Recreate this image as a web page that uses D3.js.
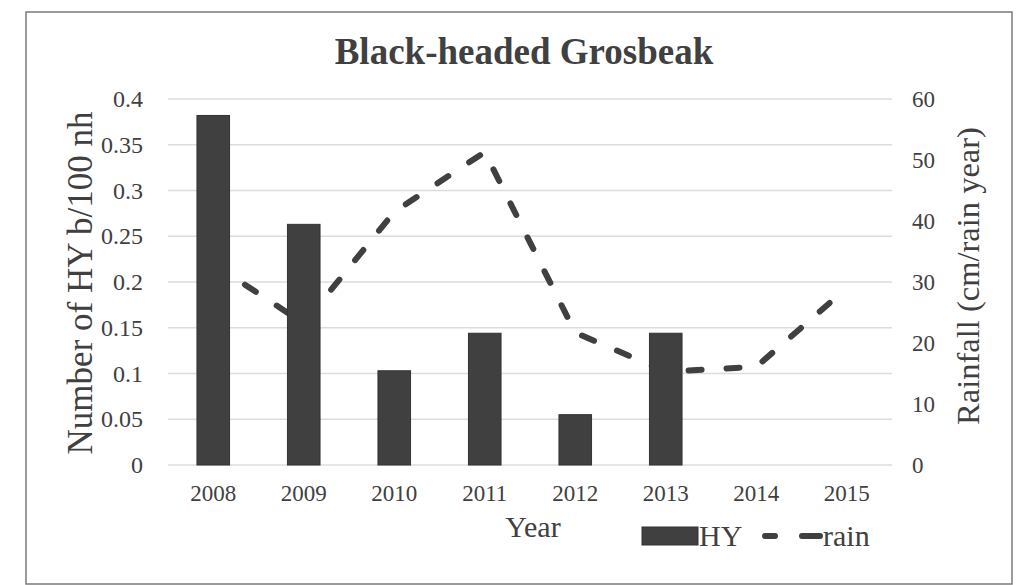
<!DOCTYPE html>
<html>
<head>
<meta charset="utf-8">
<script src="https://cdn.jsdelivr.net/npm/d3@7"></script>
<style>
  body { margin: 0; background: #fff; }
  text { font-family: "Liberation Serif", "Times New Roman", serif; fill: #404040; }
</style>
</head>
<body>
<div id="chart"></div>
<script>
var years = ["2008", "2009", "2010", "2011", "2012", "2013", "2014", "2015"];
var hyValues = [0.382, 0.263, 0.103, 0.144, 0.055, 0.144, null, null];
var rainValues = [33, 23.2, 41.5, 51.3, 21.7, 15.3, 16.1, 29];
var leftTicks = [0, 0.05, 0.1, 0.15, 0.2, 0.25, 0.3, 0.35, 0.4];
var leftLabels = ["0", "0.05", "0.1", "0.15", "0.2", "0.25", "0.3", "0.35", "0.4"];
var rightTicks = [0, 10, 20, 30, 40, 50, 60];

var W = 1019, H = 585;
var plot = {left: 168, right: 892, top: 99, bottom: 465};

var svg = d3.select("#chart")
  .append("svg")
    .attr("width", W)
    .attr("height", H);

// outer frame
svg.append("rect")
  .attr("x", 26).attr("y", 12)
  .attr("width", 986).attr("height", 572)
  .attr("fill", "none")
  .attr("stroke", "#7a7a7a")
  .attr("stroke-width", 1.5);

var x = d3.scaleBand()
  .domain(years)
  .range([plot.left, plot.right])
  .paddingInner(0.64)
  .paddingOuter(0.32);

var y = d3.scaleLinear()
  .domain([0, 0.4])
  .range([plot.bottom, plot.top]);

var y2 = d3.scaleLinear()
  .domain([0, 60])
  .range([plot.bottom, plot.top]);

// gridlines
svg.append("g")
  .selectAll("line")
  .data(leftTicks)
  .enter()
  .append("line")
    .attr("x1", plot.left)
    .attr("x2", plot.right)
    .attr("y1", d => y(d))
    .attr("y2", d => y(d))
    .attr("stroke", "#dcdcdc")
    .attr("stroke-width", 1.5);

// left axis
var leftAxis = svg.append("g")
  .attr("transform", "translate(" + plot.left + ",0)")
  .call(d3.axisLeft(y).tickValues(leftTicks).tickSize(0).tickPadding(25)
    .tickFormat((d, i) => leftLabels[i]));
leftAxis.select(".domain").remove();
leftAxis.selectAll("text").style("font-size", "24px").attr("fill", "#404040");

// right axis
var rightAxis = svg.append("g")
  .attr("transform", "translate(" + plot.right + ",0)")
  .call(d3.axisRight(y2).tickValues(rightTicks).tickSize(0).tickPadding(20));
rightAxis.select(".domain").remove();
rightAxis.selectAll("text").style("font-size", "23px").attr("fill", "#404040");

// bottom axis
var bottomAxis = svg.append("g")
  .attr("transform", "translate(0," + plot.bottom + ")")
  .call(d3.axisBottom(x).tickSize(0).tickPadding(20));
bottomAxis.select(".domain").remove();
bottomAxis.selectAll("text").style("font-size", "23px").attr("fill", "#404040");

// rain line (drawn under the bars)
var line = d3.line()
  .x((d, i) => x(years[i]) + x.bandwidth() / 2)
  .y(d => y2(d));

svg.append("path")
  .datum(rainValues)
  .attr("d", line)
  .attr("fill", "none")
  .attr("stroke", "#404040")
  .attr("stroke-width", 6)
  .attr("stroke-linecap", "round")
  .attr("stroke-linejoin", "round")
  .attr("stroke-dasharray", "13,25");

// HY bars
svg.append("g")
  .selectAll("rect")
  .data(hyValues.map((v, i) => ({year: years[i], value: v})).filter(d => d.value !== null))
  .enter()
  .append("rect")
    .attr("x", d => x(d.year))
    .attr("y", d => y(d.value))
    .attr("width", x.bandwidth())
    .attr("height", d => plot.bottom - y(d.value))
    .attr("fill", "#404040")
    .attr("stroke", "#333")
    .attr("stroke-width", 1);

// title
svg.append("text")
  .attr("x", 524).attr("y", 64)
  .attr("text-anchor", "middle")
  .style("font-size", "37px")
  .style("font-weight", "bold")
  .text("Black-headed Grosbeak");

// axis titles
svg.append("text")
  .attr("transform", "translate(92,283) rotate(-90)")
  .attr("text-anchor", "middle")
  .style("font-size", "35px")
  .text("Number of HY b/100 nh");

svg.append("text")
  .attr("transform", "translate(979,276) rotate(-90)")
  .attr("text-anchor", "middle")
  .style("font-size", "32.5px")
  .text("Rainfall (cm/rain year)");

svg.append("text")
  .attr("x", (plot.left + plot.right) / 2 + 3).attr("y", 537)
  .attr("text-anchor", "middle")
  .style("font-size", "30px")
  .text("Year");

// legend
var legend = svg.append("g");
legend.append("rect")
  .attr("x", 642).attr("y", 527)
  .attr("width", 56).attr("height", 18)
  .attr("fill", "#404040")
  .attr("stroke", "#333");
legend.append("text")
  .attr("x", 699).attr("y", 546)
  .style("font-size", "30px")
  .text("HY");
legend.append("line")
  .attr("x1", 765).attr("x2", 820)
  .attr("y1", 536).attr("y2", 536)
  .attr("stroke", "#404040")
  .attr("stroke-width", 6)
  .attr("stroke-linecap", "round")
  .attr("stroke-dasharray", "10,27,30");
legend.append("text")
  .attr("x", 823).attr("y", 546)
  .style("font-size", "30px")
  .text("rain");
</script>
</body>
</html>
